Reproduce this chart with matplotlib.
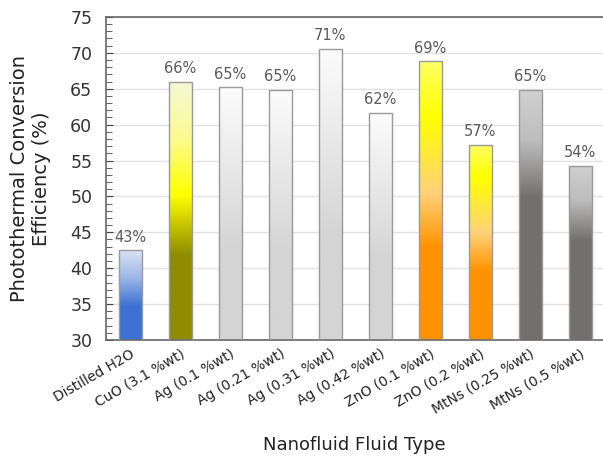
import numpy as np
import matplotlib.pyplot as plt
from matplotlib.colors import LinearSegmentedColormap
from matplotlib.patches import Rectangle
from matplotlib.ticker import MultipleLocator

fluids = ['Distilled H2O', 'CuO (3.1 %wt)', 'Ag (0.1 %wt)', 'Ag (0.21 %wt)',
          'Ag (0.31 %wt)', 'Ag (0.42 %wt)', 'ZnO (0.1 %wt)', 'ZnO (0.2 %wt)',
          'MtNs (0.25 %wt)', 'MtNs (0.5 %wt)']
efficiency = [42.5, 66.0, 65.2, 64.8, 70.6, 61.6, 68.8, 57.2, 64.8, 54.3]
labels = ['43%', '66%', '65%', '65%', '71%', '62%', '69%', '57%', '65%', '54%']

# colour stops for each bar, 0 = top of the bar, 1 = base
blue = [(0, '#d9e3f4'), (0.3, '#9fb8e6'), (0.62, '#3d72d2'), (1, '#3d72d2')]
olive = [(0, '#f4f8d6'), (0.22, '#fbfb90'), (0.44, '#ffff00'), (0.67, '#908c00'), (1, '#908c00')]
silver = [(0, '#fcfcfc'), (0.65, '#d4d4d4'), (1, '#d4d4d4')]
orange = [(0, '#ffff66'), (0.2, '#ffff00'), (0.47, '#ffd27a'), (0.67, '#ff9200'), (1, '#ff9200')]
orange2 = [(0, '#ffff66'), (0.17, '#ffff00'), (0.45, '#ffd27a'), (0.65, '#ff9200'), (1, '#ff9200')]
grey = [(0, '#d0d0d0'), (0.2, '#bdbdbd'), (0.43, '#736f6e'), (1, '#736f6e')]
fills = [blue, olive, silver, silver, silver, silver, orange, orange2, grey, grey]

base = 30
width = 0.46

fig = plt.figure(figsize=(6.03, 4.57), dpi=100)
ax = fig.add_axes([0.176, 0.256, 0.824, 0.707])

x = np.arange(len(fluids))
grad = np.linspace(0, 1, 256).reshape(-1, 1)
for i, (val, stops) in enumerate(zip(efficiency, fills)):
    cmap = LinearSegmentedColormap.from_list('bar%d' % i, stops)
    left = x[i] - width / 2
    img = ax.imshow(grad, cmap=cmap, aspect='auto', interpolation='bilinear',
                    extent=(left, left + width, base, val), origin='upper', zorder=2)
    rect = Rectangle((left, base), width, val - base, facecolor='none',
                     edgecolor='#9a9a9a', linewidth=1.0, zorder=3)
    ax.add_patch(rect)
    img.set_clip_path(rect)
    ax.text(x[i], val + 0.8, labels[i], ha='center', va='bottom',
            fontsize=10.5, color='#5a5a5a')

ax.set_xlim(-0.48, 9.46)
ax.set_ylim(30, 75)
ax.yaxis.set_major_locator(MultipleLocator(5))
ax.yaxis.set_minor_locator(MultipleLocator(1))
ax.grid(axis='y', which='major', color='#e2e2e2', linewidth=1, zorder=0)
ax.set_axisbelow(True)

ax.set_xticks(x)
ax.set_xticklabels(fluids, rotation=30, ha='right', rotation_mode='anchor',
                   fontsize=10, color='#222222')
ax.tick_params(axis='x', length=0, pad=5)
ax.tick_params(axis='y', which='both', direction='in', labelsize=12.5,
               labelcolor='#333333', color='#444444', pad=10)
ax.tick_params(axis='y', which='major', length=5)
ax.tick_params(axis='y', which='minor', length=4)

for side in ['left', 'bottom', 'top']:
    ax.spines[side].set_color('#666666')
    ax.spines[side].set_linewidth(1.2)
ax.spines['right'].set_visible(False)

ax.set_ylabel('Photothermal Conversion\nEfficiency (%)', fontsize=14,
              color='#222222', labelpad=14)
fig.text(354 / 603, 1 - 445 / 457, 'Nanofluid Fluid Type', ha='center',
         va='center', fontsize=13, color='#222222')

fig.savefig('out.png', dpi=100)
